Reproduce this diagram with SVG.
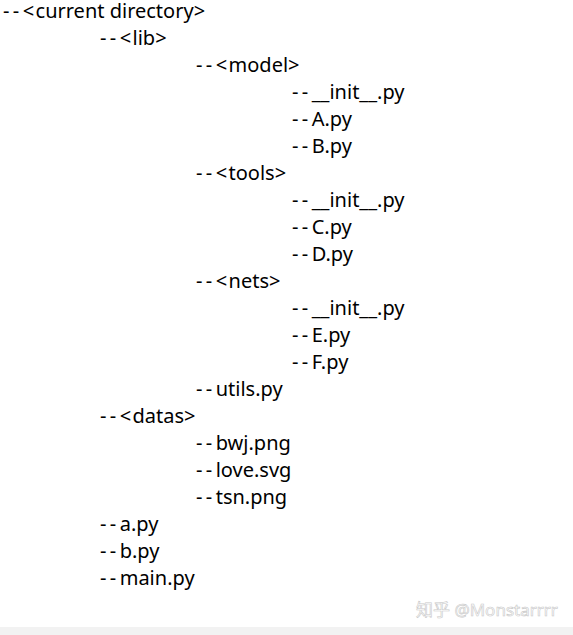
<svg xmlns="http://www.w3.org/2000/svg" width="573" height="635" viewBox="0 0 573 635">
<style>
.t{font-family:"Noto Sans","Open Sans",sans-serif;font-size:20px;fill:#000}
.d{letter-spacing:3.4px}
.b{letter-spacing:1.4px}
.w{font-family:"Noto Sans","Noto Sans CJK SC",sans-serif;font-size:17px;fill:#fff;stroke:#c8c8c8;stroke-width:0.6}
</style>
<rect width="573" height="635" fill="#fff"/>
<rect y="627" width="573" height="8" fill="#f2f2f2"/>
<g id="tree">
<text class="t" x="3" y="18"><tspan class="d">--</tspan><tspan class="b">&lt;</tspan>current directory<tspan class="b">&gt;</tspan></text>
<text class="t" x="100" y="45"><tspan class="d">--</tspan><tspan class="b">&lt;</tspan>lib<tspan class="b">&gt;</tspan></text>
<text class="t" x="196" y="72"><tspan class="d">--</tspan><tspan class="b">&lt;</tspan>model<tspan class="b">&gt;</tspan></text>
<text class="t" x="292" y="99"><tspan class="d">--</tspan>__init__.py</text>
<text class="t" x="292" y="126"><tspan class="d">--</tspan>A.py</text>
<text class="t" x="292" y="153"><tspan class="d">--</tspan>B.py</text>
<text class="t" x="196" y="180"><tspan class="d">--</tspan><tspan class="b">&lt;</tspan>tools<tspan class="b">&gt;</tspan></text>
<text class="t" x="292" y="207"><tspan class="d">--</tspan>__init__.py</text>
<text class="t" x="292" y="234"><tspan class="d">--</tspan>C.py</text>
<text class="t" x="292" y="261"><tspan class="d">--</tspan>D.py</text>
<text class="t" x="196" y="288"><tspan class="d">--</tspan><tspan class="b">&lt;</tspan>nets<tspan class="b">&gt;</tspan></text>
<text class="t" x="292" y="315"><tspan class="d">--</tspan>__init__.py</text>
<text class="t" x="292" y="342"><tspan class="d">--</tspan>E.py</text>
<text class="t" x="292" y="369"><tspan class="d">--</tspan>F.py</text>
<text class="t" x="196" y="396"><tspan class="d">--</tspan>utils.py</text>
<text class="t" x="100" y="423"><tspan class="d">--</tspan><tspan class="b">&lt;</tspan>datas<tspan class="b">&gt;</tspan></text>
<text class="t" x="196" y="450"><tspan class="d">--</tspan>bwj.png</text>
<text class="t" x="196" y="477"><tspan class="d">--</tspan>love.svg</text>
<text class="t" x="196" y="504"><tspan class="d">--</tspan>tsn.png</text>
<text class="t" x="100" y="531"><tspan class="d">--</tspan>a.py</text>
<text class="t" x="100" y="558"><tspan class="d">--</tspan>b.py</text>
<text class="t" x="100" y="585"><tspan class="d">--</tspan>main.py</text>
</g>
<text class="w" x="416" y="616">知乎 @Monstarrrr</text>
</svg>
